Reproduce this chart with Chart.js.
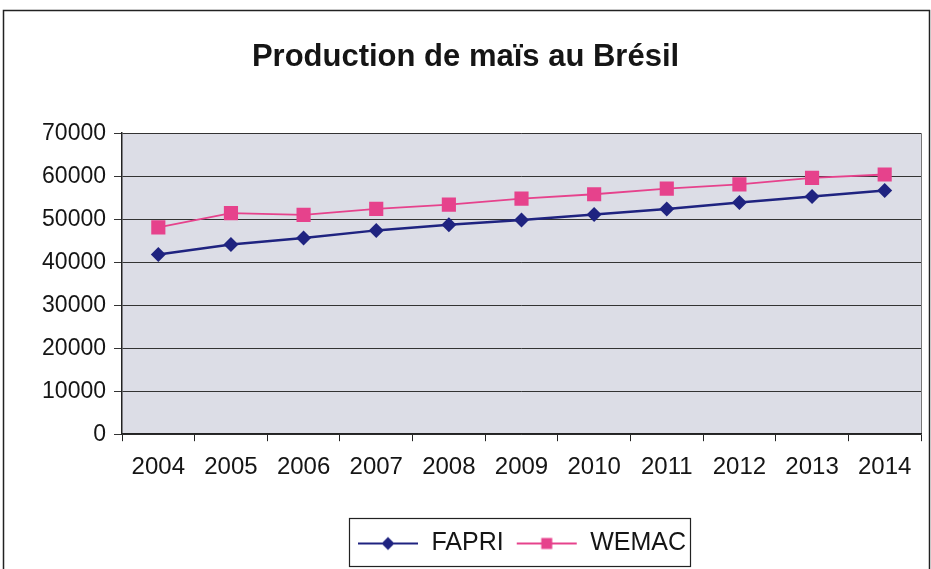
<!DOCTYPE html>
<html>
<head>
<meta charset="utf-8">
<script src="https://cdn.jsdelivr.net/npm/chart.js@4.4.1/dist/chart.umd.min.js"></script>
<style>
  html, body { margin: 0; padding: 0; background: #fff; }
  #wrap { width: 931px; height: 569px; position: relative; }
</style>
</head>
<body>
<div id="wrap"><canvas id="maize"></canvas></div>
<script>
// data
const years = ['2004', '2005', '2006', '2007', '2008', '2009', '2010', '2011', '2012', '2013', '2014'];
const fapri = [41800, 44100, 45600, 47400, 48700, 49800, 51100, 52400, 53900, 55300, 56700];
const wemac = [48100, 51400, 51000, 52400, 53400, 54800, 55800, 57100, 58100, 59600, 60400];
const yMin = 0, yMax = 70000, yStep = 10000;

const navy = '#1f2380';
const pink = '#e6428c';
const plotBg = '#dcdde6';
const font = 'Liberation Sans, Arial, sans-serif';

// little line + marker picture for the legend, like Excel does
function legendIcon(color, shape) {
    const c = document.createElement('canvas');
    c.width = 62; c.height = 20;
    const g = c.getContext('2d');
    g.strokeStyle = color;
    g.lineWidth = 2;
    g.beginPath();
    g.moveTo(1, 10); g.lineTo(61, 10);
    g.stroke();
    g.fillStyle = color;
    g.beginPath();
    if (shape === 'diamond') {
        g.moveTo(31, 3.5); g.lineTo(37.5, 10); g.lineTo(31, 16.5); g.lineTo(24.5, 10);
    } else {
        g.rect(25.5, 4.5, 11, 11);
    }
    g.closePath();
    g.fill();
    return c;
}
const icons = [legendIcon(navy, 'diamond'), legendIcon(pink, 'square')];

const frame = {
    id: 'frame',
    beforeDraw(chart) {
        const { ctx, chartArea: a } = chart;
        ctx.save();
        ctx.fillStyle = '#fff';
        ctx.fillRect(0, 0, chart.width, chart.height);
        ctx.strokeStyle = '#222';
        ctx.lineWidth = 1.5;
        ctx.strokeRect(3.5, 10.5, chart.width - 5, chart.height + 20);
        ctx.fillStyle = plotBg;
        ctx.fillRect(a.left, a.top, a.right - a.left, a.bottom - a.top);
        ctx.strokeStyle = '#777';
        ctx.lineWidth = 1;
        ctx.beginPath();
        ctx.moveTo(a.right + 0.5, a.top);
        ctx.lineTo(a.right + 0.5, a.bottom);
        ctx.stroke();
        ctx.restore();
    },
    afterDraw(chart) {
        const boxes = chart.legend.legendHitBoxes;
        if (!boxes || !boxes.length) return;
        let l = Infinity, r = -Infinity, t = Infinity, b = -Infinity;
        boxes.forEach(h => {
            l = Math.min(l, h.left); r = Math.max(r, h.left + h.width);
            t = Math.min(t, h.top); b = Math.max(b, h.top + h.height);
        });
        const ctx = chart.ctx;
        ctx.save();
        ctx.strokeStyle = '#222';
        ctx.lineWidth = 1.2;
        ctx.strokeRect(Math.round(l - 8) + 0.5, Math.round(t - 13) + 0.5, Math.round(r - l + 12), Math.round(b - t + 23));
        ctx.restore();
    }
};

const ctx = document.getElementById('maize');
const maize = new Chart(ctx, {
    type: 'line',
    data: {
        labels: years,
        datasets: [{
            label: 'FAPRI',
            data: fapri,
            borderColor: navy,
            backgroundColor: navy,
            borderWidth: 2.5,
            pointStyle: 'rectRot',
            pointRadius: 7.5,
            pointBorderWidth: 0,
            tension: 0
        }, {
            label: 'WEMAC',
            data: wemac,
            borderColor: pink,
            backgroundColor: pink,
            borderWidth: 1.8,
            pointStyle: 'rect',
            pointRadius: 10,
            pointBorderWidth: 0,
            tension: 0
        }]
    },
    options: {
        responsive: true,
        maintainAspectRatio: false,
        animation: false,
        layout: { padding: { left: 10, right: 10, top: 39, bottom: 3 } },
        plugins: {
            title: {
                display: true,
                text: 'Production de maïs au Brésil',
                color: '#151515',
                font: { family: font, size: 31, weight: 'bold' },
                padding: { top: 0, bottom: 57 }
            },
            legend: {
                position: 'bottom',
                fullSize: false,
                labels: {
                    usePointStyle: true,
                    pointStyleWidth: 62,
                    color: '#151515',
                    font: { family: font, size: 25 },
                    padding: 12,
                    generateLabels(chart) {
                        const items = Chart.defaults.plugins.legend.labels.generateLabels(chart);
                        items.forEach((it, i) => { it.pointStyle = icons[i]; });
                        return items;
                    }
                }
            },
            tooltip: { enabled: false }
        },
        scales: {
            x: {
                offset: true,
                afterFit(scale) { scale.height += 25; },
                grid: { offset: true, drawOnChartArea: false, drawTicks: true, tickLength: 7, color: '#222' },
                border: { color: '#222', width: 1.5 },
                ticks: {
                    color: '#151515',
                    padding: 12,
                    maxRotation: 0,
                    font: { family: font, size: 24 }
                }
            },
            y: {
                min: yMin,
                max: yMax,
                afterFit(scale) { scale.width = 112; },
                grid: { color: '#333', lineWidth: 1, tickLength: 8 },
                border: { color: '#222', width: 1.5 },
                ticks: {
                    stepSize: yStep,
                    color: '#151515',
                    padding: 8,
                    font: { family: font, size: 23 },
                    callback: v => String(v)
                }
            }
        }
    },
    plugins: [frame]
});
</script>
</body>
</html>
